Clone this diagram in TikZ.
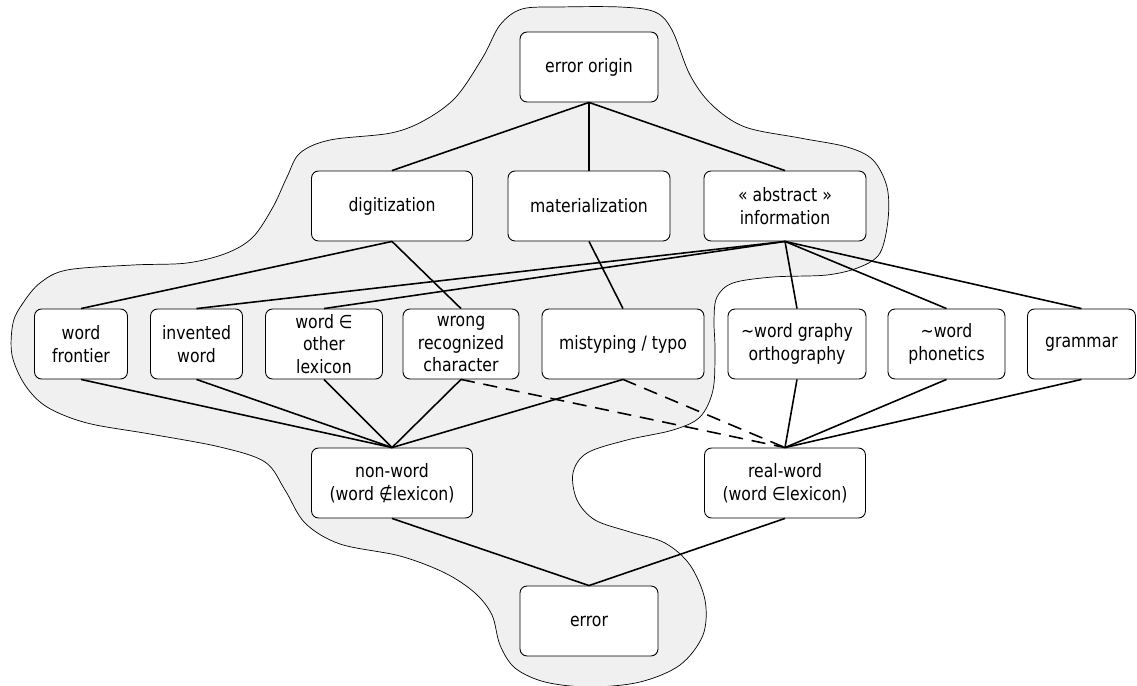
\documentclass[tikz,border=0pt]{standalone}
\usepackage{fontspec}
\setmainfont{DejaVu Sans}[FakeStretch=0.85]
\begin{document}
\begin{tikzpicture}[x=0.02cm,y=-0.02cm,
    box/.style={draw,line width=0.5pt,fill=white,rounded corners=4pt,align=center,minimum height=1.4cm,inner sep=1pt},
    link/.style={line width=0.9pt},
    font=\fontsize{10.5}{13}\selectfont]
  \useasboundingbox (0,0) rectangle (1137,686);

  % grey area
  \draw[fill=black!6,line width=0.4pt] plot[smooth cycle,tension=0.55] coordinates {
    (500,25) (522,9) (560,7) (620,7) (655,12) (672,30) (690,75) (712,105) (745,127)
    (800,138) (847,147) (873,160) (887,187) (888,220) (880,253) (860,267) (827,275)
    (773,277) (733,283) (717,297) (714,320) (715,350) (713,390) (700,417) (673,430)
    (627,440) (587,453) (573,473) (577,500) (595,520) (630,532) (665,543) (690,565)
    (705,600) (703,635) (680,665) (640,682) (590,687) (545,682) (515,668) (500,645)
    (492,615) (475,593) (445,573) (400,556) (340,544) (305,523) (285,490) (265,462)
    (220,447) (150,434) (87,423) (47,407) (25,385) (12,355) (13,323) (23,303) (40,283)
    (67,270) (133,265) (187,263) (227,253) (253,237) (273,207) (287,177) (300,153)
    (330,140) (391,133) (425,120) (456,97) (483,57)};

  % top
  \node[box,minimum width=2.76cm] (orig) at (589,67) {error origin};

  % second row
  \node[box,minimum width=3.22cm] (dig) at (392,206) {digitization};
  \node[box,minimum width=3.24cm] (mat) at (589,206) {materialization};
  \node[box,minimum width=3.24cm] (abs) at (785,206) {« abstract »\\information};

  % third row
  \node[box,minimum width=1.86cm] (front) at (81,344) {word\\frontier};
  \node[box,minimum width=1.84cm] (inv) at (196.5,344) {invented\\word};
  \node[box,minimum width=2.34cm] (other) at (324,344) {word ∈\\other\\lexicon};
  \node[box,minimum width=2.32cm] (wrong) at (461,344) {wrong\\recognized\\character};
  \node[box,minimum width=3.24cm] (typo) at (623,344) {mistyping / typo};
  \node[box,minimum width=2.76cm] (graph) at (797,344) {\textasciitilde word graphy\\orthography};
  \node[box,minimum width=2.34cm] (phon) at (946.5,344) {\textasciitilde word\\phonetics};
  \node[box,minimum width=2.16cm] (gram) at (1081.5,344) {grammar};

  % fourth row
  \node[box,minimum width=3.22cm] (non) at (392,483) {non-word\\(word ∉lexicon)};
  \node[box,minimum width=3.22cm] (real) at (785,483) {real-word\\(word ∈lexicon)};

  % bottom
  \node[box,minimum width=2.76cm] (err) at (589,621) {error};

  % links
  \foreach \n in {dig,mat,abs}
    \draw[link] (orig.south) -- (\n.north);
  \draw[link] (dig.south) -- (front.north);
  \draw[link] (dig.south) -- (wrong.north);
  \draw[link] (mat.south) -- (typo.north);
  \foreach \n in {inv,other,graph,phon,gram}
    \draw[link] (abs.south) -- (\n.north);
  \foreach \n in {front,inv,other,wrong,typo}
    \draw[link] (\n.south) -- (non.north);
  \foreach \n in {graph,phon,gram}
    \draw[link] (\n.south) -- (real.north);
  \draw[link,dashed,dash pattern=on 8pt off 5pt] (wrong.south) -- (real.north);
  \draw[link,dashed,dash pattern=on 8pt off 5pt] (typo.south) -- (real.north);
  \draw[link] (non.south) -- (err.north);
  \draw[link] (real.south) -- (err.north);
\end{tikzpicture}
\end{document}
